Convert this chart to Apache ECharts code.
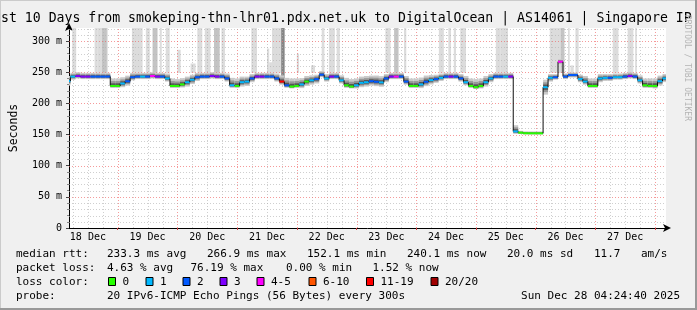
<!DOCTYPE html>
<html><head><meta charset="utf-8">
<script src="https://cdn.jsdelivr.net/npm/echarts@6/dist/echarts.min.js"></script>
<style>html,body{margin:0;padding:0;background:#f0f0f0}#c{width:697px;height:310px}</style>
</head><body><div id="c"></div>
<script>
// ---- time base (hours after 18 Dec 00:00) ----
const WINDOW_START = 4.411;      // Thu 18 Dec 04:24:40
const WINDOW_HOURS = 240;        // 10 days
const SAMPLE0 = 4.0;             // first sample (hour)
const STEP = 2;                  // hours per sample
const Y_MAX = 321;

const dayLabels = ['18 Dec','19 Dec','20 Dec','21 Dec','22 Dec','23 Dec','24 Dec','25 Dec','26 Dec','27 Dec'];
const yTickLabels = ['0','50 m','100 m','150 m','200 m','250 m','300 m'];

// median rtt (ms), one value per 2 hours
const median = [
 236,243,244,243,243,243,243,243,243,228,
 228,232,235.5,242,243,243,243,244,243,243,
 240,228,228,230.5,234,238,242,243,243,244,
 243,243,240,229,228,234,235,240,243,243,
 243,243,240,235,229,227,228,230.5,235,237,
 239,246,240,243,243,237,229,227,229,233,
 234,235.6,234.7,233.7,240,243,243,243,235,228,
 228,230.5,234.7,237.4,239,241,243,243,243,240,
 234,228,226,228,234,240,243,243,243,243,
 155,153,152.1,152,152,152,226,241,242,266.9,
 243,245.5,245.5,239,235,228,228,240,241,241,
 242,242,243,244,243,237,229,228,228,235.6,
 240.1];
// loss class index per sample (0:"0",1:"1",2:"2",3:"3",4:"4-5",5:"6-10",6:"11-19",7:"20/20")
const lossClass = [
 1,1,3,3,3,2,2,2,2,0,
 0,1,2,2,2,1,2,4,3,2,
 1,0,0,0,1,1,2,2,2,3,
 3,2,2,1,0,1,1,2,3,3,
 2,2,2,6,2,0,0,1,0,1,
 2,2,1,3,2,1,0,0,1,1,
 1,2,2,1,2,3,4,2,2,0,
 0,1,2,1,2,1,2,3,2,2,
 1,0,0,0,1,1,2,2,1,3,
 1,0,0,0,0,0,1,1,2,4,
 2,2,2,1,1,0,0,1,1,2,
 1,1,2,3,2,1,0,0,0,1,
 1];
// smoke spread above / below median (ms)
const smokeUp = [
 8,6,6,6,6,6,6,6,6,12,
 12,10,9,7,6,6,6,6,6,6,
 8,12,11,10,9,8,7,6,6,6,
 6,6,8,12,12,9,8,7,6,6,
 6,6,8,10,12,13,12,10,9,8,
 7,6,7,6,6,8,12,12,11,10,
 10,9,10,10,7,6,6,6,9,12,
 12,11,10,8,7,7,6,6,6,7,
 10,12,13,12,10,7,6,6,6,6,
 10,3,3,3,3,3,12,6,5,4,
 5,4,4,7,9,12,12,7,6,6,
 6,6,6,6,6,8,11,12,12,9,
 7];
const smokeDown = [
 7,5,4,4,4,4,4,4,4,3,
 3,6,7,5,4,4,4,4,4,4,
 5,3,3,5,7,7,6,4,4,4,
 4,4,5,4,3,7,7,6,4,4,
 4,4,5,5,4,3,3,6,7,7,
 7,4,5,4,4,5,4,3,5,7,
 7,7,7,7,6,4,4,4,5,3,
 3,6,7,7,6,5,4,4,4,5,
 5,3,3,4,7,6,4,4,4,4,
 4,2,2,2,2,2,12,6,4,4,
 4,4,4,5,5,3,3,6,5,5,
 4,4,4,4,4,5,4,3,4,7,
 6];

// outlier smoke bars (hours after SAMPLE0, ms range, shade 1..3)
const spikeStart = [1.7,10.7,12.0,13.7,25.7,31.3,34.0,36.9,39.3,44.0,49.3,52.0,55.0,58.7,61.7,73.7,80.0,80.9,82.0,85.7,92.0,97.7,102.0,104.9,108.0,127.6,131.1,135.1,149.1,152.9,155.1,157.7,172.0,174.0,193.7,198.0,201.0,202.0,204.0,219.0,225.0,228.0];
const spikeEnd   = [3.3,12.0,16.0,15.6,30.0,32.9,36.0,37.7,40.9,45.3,51.3,54.0,57.3,61.0,63.1,76.0,80.9,82.0,85.7,87.1,92.9,99.3,103.1,107.3,109.3,129.7,132.9,136.0,151.1,154.0,156.0,160.0,174.0,176.9,198.0,199.6,201.7,203.3,205.3,221.3,227.3,228.7];
const spikeLow   = [249,249,249,249,249,249,249,249,249,249,249,249,249,249,249,249,249,249,249,236,249,249,249,249,249,249,249,249,249,249,249,249,249,249,249,249,249,249,249,249,249,249];
const spikeHigh  = [321,321,321,321,321,321,321,321,321,286,264,321,321,321,321,321,288,266,321,321,280,261,321,321,321,321,321,321,321,321,321,321,321,321,321,321,321,261,321,321,321,321];
const spikeShade = [1,1,1,2,1,1,2,1,1,1,1,1,1,2,1,1,1,1,1,3,1,1,1,1,1,1,2,1,1,1,1,1,1,1,1,2,1,1,1,1,1,1];

const lossColors = ['#26ff00','#00b8ff','#0059ff','#7e00ff','#ff00ff','#ff5500','#ff0000','#a00000'];
const lossNames  = ['0','1','2','3','4-5','6-10','11-19','20/20'];
const shadeColors = [null,'#dcdcdc','#c4c4c4','#858585'];

// ---- build data rows ----
const medianRows = median.map((v,i)=>[SAMPLE0 + i*STEP, v, lossClass[i]]);
const smokeRows = median.map((v,i)=>[SAMPLE0 + i*STEP, v, smokeUp[i], smokeDown[i]]);
const spikeRows = spikeStart.map((s,i)=>[SAMPLE0 + s, spikeLow[i], SAMPLE0 + spikeEnd[i], spikeHigh[i], spikeShade[i]]);

const midnights = [], sixHours = [], noons = [];
for (let h = 6; h <= WINDOW_START + WINDOW_HOURS; h += 6) {
  if (h <= WINDOW_START) continue;
  if (h % 24 === 0) midnights.push(h); else sixHours.push(h);
  if (h % 24 === 12) noons.push(h);
}
const gridRows = [];
sixHours.forEach(h=>gridRows.push([h, 0, 0]));
midnights.forEach(h=>gridRows.push([h, 0, 1]));
for (let v = 10; v < Y_MAX; v += 10) gridRows.push([WINDOW_START, v, v % 50 === 0 ? 3 : 2]);

const MONO = '"DejaVu Sans Mono", monospace';

const chart = echarts.init(document.getElementById('c'), null, {renderer:'canvas'});

function txt(x, y, text, extra) {
  return Object.assign({type:'text', x:x, y:y, silent:true,
    style:Object.assign({text:text, font:'11px ' + MONO, fill:'#000', verticalAlign:'middle'}, extra||{})});
}

const graphics = [
  {type:'rect', shape:{x:0,y:0,width:697,height:310}, style:{fill:'none', stroke:'#cbcbcb', lineWidth:2}, silent:true, z:-1},
  {type:'polyline', shape:{points:[[696,0],[696,309],[0,309]]}, style:{stroke:'#999', lineWidth:2, fill:'none'}, silent:true},
  txt(1, 18.5, 'st 10 Days from smokeping-thn-lhr01.pdx.net.uk to DigitalOcean | AS14061 | Singapore IP', {font:'13.2px ' + MONO}),
  {type:'text', x:687, y:15, rotation:-Math.PI/2, silent:true,
    style:{text:'RRDTOOL / TOBI OETIKER', font:'8px ' + MONO, fill:'#b4b4b4', verticalAlign:'middle'}},
  txt(16, 254, 'median rtt:'), txt(107, 254, '233.3 ms avg'), txt(207, 254, '266.9 ms max'),
  txt(307, 254, '152.1 ms min'), txt(407, 254, '240.1 ms now'), txt(507, 254, '20.0 ms sd'),
  txt(594, 254, '11.7'), txt(641, 254, 'am/s'),
  txt(16, 268, 'packet loss:'), txt(107, 268, '4.63 % avg'), txt(190.5, 268, '76.19 % max'),
  txt(286, 268, '0.00 % min'), txt(372.5, 268, '1.52 % now'),
  txt(16, 282, 'loss color:'),
  txt(16, 296, 'probe:'), txt(107, 296, '20 IPv6-ICMP Echo Pings (56 Bytes) every 300s'),
  txt(680, 296, 'Sun Dec 28 04:24:40 2025', {align:'right'})
];
const boxX = [108, 145.5, 182.5, 219.5, 256.5, 308.5, 366, 430.5];
boxX.forEach((bx,k)=>{
  graphics.push({type:'rect', silent:true, shape:{x:bx+0.5, y:277.5, width:7, height:8},
    style:{fill:lossColors[k], stroke:'#000', lineWidth:1}});
  graphics.push(txt(bx + 14.5, 282, lossNames[k]));
});

const option = {
  animation:false,
  backgroundColor:'#f0f0f0',
  grid:{left:66, top:28, width:600, height:200, show:true, backgroundColor:'#ffffff', borderWidth:0},
  xAxis:{
    type:'value', min:WINDOW_START, max:WINDOW_START + WINDOW_HOURS,
    axisLine:{show:true, onZero:false, lineStyle:{color:'#000', width:1}, symbol:['none','arrow'], symbolSize:[6,8], symbolOffset:[0,5]},
    axisTick:{show:true, customValues:midnights, length:2, lineStyle:{color:'#d04040'}},
    axisLabel:{customValues:noons, margin:4, fontSize:10, fontFamily:MONO, color:'#000',
      formatter:(v)=>dayLabels[Math.round((v-12)/24)]},
    splitLine:{show:false}
  },
  yAxis:{
    type:'value', min:0, max:Y_MAX, interval:50,
    name:'Seconds', nameLocation:'middle', nameGap:49, nameRotate:90,
    nameTextStyle:{fontFamily:MONO, fontSize:11.5, color:'#000'},
    axisLine:{show:true, lineStyle:{color:'#000', width:1}, symbol:['none','arrow'], symbolSize:[6,8], symbolOffset:[0,5]},
    axisTick:{show:true, length:3, lineStyle:{color:'#444'}},
    minorTick:{show:true, splitNumber:5, length:2, lineStyle:{color:'#888'}},
    axisLabel:{margin:7, fontSize:10, fontFamily:MONO, color:'#000', showMaxLabel:false,
      formatter:(v)=>yTickLabels[Math.round(v/50)] || ''},
    splitLine:{show:false}
  },
  graphic:graphics,
  series:[
    { // outlier smoke bars
      type:'custom', z:1, clip:true, silent:true,
      data:spikeRows, encode:{x:[0,2], y:[1,3]},
      renderItem:(p, api)=>{
        const a = api.coord([api.value(0), api.value(3)]);
        const b = api.coord([api.value(2), api.value(1)]);
        return {type:'rect', shape:{x:a[0], y:a[1], width:b[0]-a[0], height:b[1]-a[1]},
          style:{fill:shadeColors[api.value(4)]}};
      }
    },
    { // grid lines
      type:'custom', z:2, clip:true, silent:true,
      data:gridRows, encode:{x:0, y:1},
      renderItem:(p, api)=>{
        const kind = api.value(2);
        let a, b;
        if (kind < 2) { a = api.coord([api.value(0), 0]); b = api.coord([api.value(0), Y_MAX]); }
        else { a = api.coord([WINDOW_START, api.value(1)]); b = api.coord([WINDOW_START + WINDOW_HOURS, api.value(1)]); }
        const red = (kind === 1 || kind === 3);
        const x1 = Math.round(a[0]) + 0.5, y1 = Math.round(a[1]) + 0.5;
        return {type:'line', shape: kind < 2 ? {x1:x1, y1:a[1], x2:x1, y2:b[1]} : {x1:a[0], y1:y1, x2:b[0], y2:y1},
          style:{stroke: red ? 'rgba(240,100,100,0.65)' : 'rgba(175,175,175,0.6)', lineWidth:1, lineDash:[1,2]}};
      }
    },
    { // smoke
      type:'custom', z:3, clip:true, silent:true,
      data:smokeRows, encode:{x:0, y:1},
      renderItem:(p, api)=>{
        const t = api.value(0), m = api.value(1), up = api.value(2), dn = api.value(3);
        const layers = [[1,'#cacaca'],[0.65,'#989898'],[0.35,'#555555']];
        return {type:'group', children: layers.map(([f,col])=>{
          const a = api.coord([t - STEP/2, m + up*f]);
          const b = api.coord([t + STEP/2, m - dn*f]);
          return {type:'rect', shape:{x:a[0], y:a[1], width:b[0]-a[0], height:b[1]-a[1]}, style:{fill:col}};
        })};
      }
    },
    { // median rtt coloured by loss
      type:'custom', z:4, clip:true, silent:true,
      data:medianRows, encode:{x:0, y:1},
      renderItem:(p, api)=>{
        const i = p.dataIndex;
        const t = api.value(0), m = api.value(1), c = api.value(2);
        const a = api.coord([t - STEP/2, m]), b = api.coord([t + STEP/2, m]);
        const children = [];
        if (i > 0) {
          const q = api.coord([t - STEP/2, median[i-1]]);
          children.push({type:'line', shape:{x1:a[0], y1:q[1], x2:a[0], y2:a[1]}, style:{stroke:'#111', lineWidth:1}});
        }
        children.push({type:'line', shape:{x1:a[0], y1:a[1], x2:b[0], y2:b[1]}, style:{stroke:lossColors[c], lineWidth:2}});
        return {type:'group', children};
      }
    }
  ]
};
chart.setOption(option);
</script>
</body></html>
